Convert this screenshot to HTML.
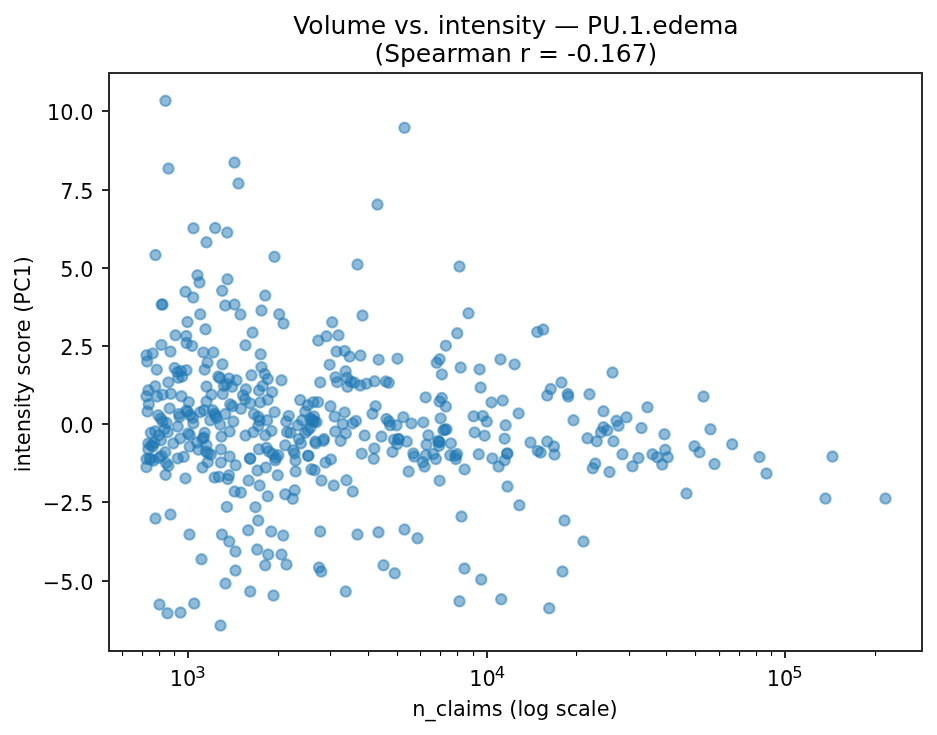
<!DOCTYPE html>
<html lang="en"><head><meta charset="utf-8"><title>Volume vs. intensity — PU.1.edema</title>
<style>html,body{margin:0;padding:0;background:#fff}svg{display:block}text{font-family:"DejaVu Sans", "Liberation Sans", sans-serif;fill:#000}.d{fill:#1f77b4;fill-opacity:.5;stroke:#1f77b4;stroke-opacity:.5;stroke-width:2.083}.k{fill:#2a2a2a;shape-rendering:crispEdges}.m{fill:#000;shape-rendering:crispEdges}.m2{fill:#dfdfdf;shape-rendering:crispEdges}</style></head><body>
<svg width="937" height="735" viewBox="0 0 937 735">
<rect width="937" height="735" fill="#fff"/>
<g class="d">
<circle cx="165.50" cy="100.80" r="5.21"/>
<circle cx="168.50" cy="168.55" r="5.21"/>
<circle cx="234.50" cy="162.55" r="5.21"/>
<circle cx="238.50" cy="183.55" r="5.21"/>
<circle cx="193.50" cy="228.30" r="5.21"/>
<circle cx="215.25" cy="228.05" r="5.21"/>
<circle cx="227.25" cy="232.55" r="5.21"/>
<circle cx="206.50" cy="242.30" r="5.21"/>
<circle cx="404.50" cy="127.80" r="5.21"/>
<circle cx="377.50" cy="204.55" r="5.21"/>
<circle cx="155.50" cy="255.05" r="5.21"/>
<circle cx="274.50" cy="256.80" r="5.21"/>
<circle cx="197.50" cy="275.30" r="5.21"/>
<circle cx="199.50" cy="282.55" r="5.21"/>
<circle cx="227.50" cy="279.30" r="5.21"/>
<circle cx="222.25" cy="290.80" r="5.21"/>
<circle cx="185.50" cy="291.80" r="5.21"/>
<circle cx="193.25" cy="297.55" r="5.21"/>
<circle cx="161.75" cy="304.55" r="5.21"/>
<circle cx="162.50" cy="304.55" r="5.21"/>
<circle cx="225.25" cy="305.55" r="5.21"/>
<circle cx="234.50" cy="304.55" r="5.21"/>
<circle cx="240.50" cy="314.55" r="5.21"/>
<circle cx="265.25" cy="295.55" r="5.21"/>
<circle cx="261.50" cy="310.55" r="5.21"/>
<circle cx="279.25" cy="314.30" r="5.21"/>
<circle cx="283.50" cy="323.55" r="5.21"/>
<circle cx="200.25" cy="314.30" r="5.21"/>
<circle cx="187.50" cy="322.05" r="5.21"/>
<circle cx="205.50" cy="329.30" r="5.21"/>
<circle cx="252.50" cy="332.55" r="5.21"/>
<circle cx="175.50" cy="335.30" r="5.21"/>
<circle cx="186.25" cy="336.05" r="5.21"/>
<circle cx="245.50" cy="345.30" r="5.21"/>
<circle cx="332.25" cy="322.30" r="5.21"/>
<circle cx="326.50" cy="336.30" r="5.21"/>
<circle cx="318.25" cy="340.55" r="5.21"/>
<circle cx="161.37" cy="344.92" r="5.21"/>
<circle cx="170.50" cy="351.55" r="5.21"/>
<circle cx="186.50" cy="343.05" r="5.21"/>
<circle cx="192.13" cy="345.92" r="5.21"/>
<circle cx="152.75" cy="353.42" r="5.21"/>
<circle cx="146.50" cy="355.30" r="5.21"/>
<circle cx="147.13" cy="361.55" r="5.21"/>
<circle cx="156.75" cy="369.68" r="5.21"/>
<circle cx="203.37" cy="352.42" r="5.21"/>
<circle cx="213.37" cy="352.42" r="5.21"/>
<circle cx="207.50" cy="362.55" r="5.21"/>
<circle cx="204.63" cy="369.68" r="5.21"/>
<circle cx="174.63" cy="368.05" r="5.21"/>
<circle cx="177.50" cy="372.18" r="5.21"/>
<circle cx="180.87" cy="370.92" r="5.21"/>
<circle cx="186.50" cy="370.30" r="5.21"/>
<circle cx="178.37" cy="377.80" r="5.21"/>
<circle cx="182.13" cy="376.55" r="5.21"/>
<circle cx="168.37" cy="382.42" r="5.21"/>
<circle cx="206.50" cy="386.55" r="5.21"/>
<circle cx="155.25" cy="386.30" r="5.21"/>
<circle cx="148.37" cy="390.30" r="5.21"/>
<circle cx="146.50" cy="396.30" r="5.21"/>
<circle cx="157.13" cy="396.55" r="5.21"/>
<circle cx="162.75" cy="394.68" r="5.21"/>
<circle cx="170.87" cy="393.80" r="5.21"/>
<circle cx="181.50" cy="396.30" r="5.21"/>
<circle cx="188.75" cy="402.18" r="5.21"/>
<circle cx="211.50" cy="394.68" r="5.21"/>
<circle cx="206.50" cy="401.55" r="5.21"/>
<circle cx="148.75" cy="404.30" r="5.21"/>
<circle cx="147.50" cy="411.55" r="5.21"/>
<circle cx="169.63" cy="408.42" r="5.21"/>
<circle cx="158.37" cy="415.30" r="5.21"/>
<circle cx="160.87" cy="418.42" r="5.21"/>
<circle cx="162.75" cy="421.55" r="5.21"/>
<circle cx="166.50" cy="422.80" r="5.21"/>
<circle cx="179.00" cy="414.05" r="5.21"/>
<circle cx="179.63" cy="416.80" r="5.21"/>
<circle cx="187.75" cy="411.55" r="5.21"/>
<circle cx="186.25" cy="410.68" r="5.21"/>
<circle cx="190.25" cy="415.30" r="5.21"/>
<circle cx="192.75" cy="417.80" r="5.21"/>
<circle cx="193.37" cy="423.42" r="5.21"/>
<circle cx="200.25" cy="412.18" r="5.21"/>
<circle cx="204.00" cy="410.30" r="5.21"/>
<circle cx="212.75" cy="410.30" r="5.21"/>
<circle cx="215.25" cy="415.30" r="5.21"/>
<circle cx="210.25" cy="420.30" r="5.21"/>
<circle cx="177.75" cy="426.55" r="5.21"/>
<circle cx="222.50" cy="364.30" r="5.21"/>
<circle cx="260.63" cy="354.30" r="5.21"/>
<circle cx="261.50" cy="367.18" r="5.21"/>
<circle cx="264.63" cy="374.05" r="5.21"/>
<circle cx="267.75" cy="379.05" r="5.21"/>
<circle cx="251.50" cy="375.30" r="5.21"/>
<circle cx="281.50" cy="380.30" r="5.21"/>
<circle cx="320.25" cy="382.42" r="5.21"/>
<circle cx="226.50" cy="384.05" r="5.21"/>
<circle cx="214.63" cy="413.42" r="5.21"/>
<circle cx="216.50" cy="417.80" r="5.21"/>
<circle cx="312.13" cy="419.68" r="5.21"/>
<circle cx="314.63" cy="421.55" r="5.21"/>
<circle cx="218.37" cy="376.55" r="5.21"/>
<circle cx="220.00" cy="378.05" r="5.21"/>
<circle cx="229.00" cy="378.42" r="5.21"/>
<circle cx="236.50" cy="380.30" r="5.21"/>
<circle cx="224.00" cy="385.92" r="5.21"/>
<circle cx="232.13" cy="386.80" r="5.21"/>
<circle cx="222.75" cy="394.05" r="5.21"/>
<circle cx="245.87" cy="389.30" r="5.21"/>
<circle cx="243.00" cy="395.30" r="5.21"/>
<circle cx="245.00" cy="399.30" r="5.21"/>
<circle cx="250.25" cy="403.42" r="5.21"/>
<circle cx="240.87" cy="408.80" r="5.21"/>
<circle cx="230.25" cy="404.30" r="5.21"/>
<circle cx="232.50" cy="406.30" r="5.21"/>
<circle cx="262.75" cy="385.92" r="5.21"/>
<circle cx="259.00" cy="390.55" r="5.21"/>
<circle cx="272.13" cy="392.18" r="5.21"/>
<circle cx="267.75" cy="399.68" r="5.21"/>
<circle cx="260.25" cy="402.42" r="5.21"/>
<circle cx="300.25" cy="400.05" r="5.21"/>
<circle cx="307.75" cy="405.30" r="5.21"/>
<circle cx="313.37" cy="402.18" r="5.21"/>
<circle cx="318.00" cy="402.18" r="5.21"/>
<circle cx="305.25" cy="411.55" r="5.21"/>
<circle cx="274.63" cy="412.18" r="5.21"/>
<circle cx="288.75" cy="415.92" r="5.21"/>
<circle cx="286.25" cy="421.55" r="5.21"/>
<circle cx="254.00" cy="414.05" r="5.21"/>
<circle cx="258.37" cy="416.80" r="5.21"/>
<circle cx="259.63" cy="420.55" r="5.21"/>
<circle cx="267.13" cy="420.30" r="5.21"/>
<circle cx="233.37" cy="421.55" r="5.21"/>
<circle cx="225.25" cy="414.05" r="5.21"/>
<circle cx="220.25" cy="424.68" r="5.21"/>
<circle cx="310.25" cy="418.42" r="5.21"/>
<circle cx="314.00" cy="416.55" r="5.21"/>
<circle cx="316.50" cy="422.18" r="5.21"/>
<circle cx="312.75" cy="421.55" r="5.21"/>
<circle cx="297.75" cy="425.30" r="5.21"/>
<circle cx="302.13" cy="420.30" r="5.21"/>
<circle cx="336.50" cy="351.55" r="5.21"/>
<circle cx="344.63" cy="350.92" r="5.21"/>
<circle cx="349.63" cy="356.55" r="5.21"/>
<circle cx="360.50" cy="355.55" r="5.21"/>
<circle cx="378.63" cy="359.68" r="5.21"/>
<circle cx="397.50" cy="358.68" r="5.21"/>
<circle cx="329.63" cy="364.68" r="5.21"/>
<circle cx="345.63" cy="371.30" r="5.21"/>
<circle cx="335.50" cy="377.18" r="5.21"/>
<circle cx="337.13" cy="382.18" r="5.21"/>
<circle cx="347.13" cy="377.80" r="5.21"/>
<circle cx="350.87" cy="381.80" r="5.21"/>
<circle cx="347.50" cy="386.80" r="5.21"/>
<circle cx="354.25" cy="382.55" r="5.21"/>
<circle cx="360.25" cy="385.55" r="5.21"/>
<circle cx="366.50" cy="383.68" r="5.21"/>
<circle cx="374.63" cy="381.30" r="5.21"/>
<circle cx="385.87" cy="381.55" r="5.21"/>
<circle cx="388.75" cy="382.80" r="5.21"/>
<circle cx="425.63" cy="397.42" r="5.21"/>
<circle cx="330.50" cy="406.30" r="5.21"/>
<circle cx="344.63" cy="412.42" r="5.21"/>
<circle cx="334.63" cy="416.55" r="5.21"/>
<circle cx="375.63" cy="406.18" r="5.21"/>
<circle cx="372.50" cy="413.80" r="5.21"/>
<circle cx="342.75" cy="424.05" r="5.21"/>
<circle cx="355.87" cy="420.92" r="5.21"/>
<circle cx="352.75" cy="423.42" r="5.21"/>
<circle cx="403.37" cy="417.18" r="5.21"/>
<circle cx="411.50" cy="423.42" r="5.21"/>
<circle cx="423.37" cy="422.42" r="5.21"/>
<circle cx="386.50" cy="419.05" r="5.21"/>
<circle cx="389.00" cy="421.55" r="5.21"/>
<circle cx="390.25" cy="425.30" r="5.21"/>
<circle cx="396.50" cy="425.30" r="5.21"/>
<circle cx="445.87" cy="345.68" r="5.21"/>
<circle cx="439.63" cy="359.30" r="5.21"/>
<circle cx="436.75" cy="362.80" r="5.21"/>
<circle cx="460.63" cy="367.55" r="5.21"/>
<circle cx="479.63" cy="369.42" r="5.21"/>
<circle cx="500.50" cy="359.42" r="5.21"/>
<circle cx="514.63" cy="364.42" r="5.21"/>
<circle cx="441.87" cy="374.42" r="5.21"/>
<circle cx="480.63" cy="387.55" r="5.21"/>
<circle cx="491.50" cy="402.42" r="5.21"/>
<circle cx="502.75" cy="400.55" r="5.21"/>
<circle cx="441.75" cy="398.05" r="5.21"/>
<circle cx="439.63" cy="401.55" r="5.21"/>
<circle cx="445.87" cy="406.55" r="5.21"/>
<circle cx="440.63" cy="418.42" r="5.21"/>
<circle cx="473.63" cy="416.30" r="5.21"/>
<circle cx="482.75" cy="415.92" r="5.21"/>
<circle cx="486.75" cy="421.55" r="5.21"/>
<circle cx="518.63" cy="413.42" r="5.21"/>
<circle cx="505.63" cy="425.30" r="5.21"/>
<circle cx="543.25" cy="329.55" r="5.21"/>
<circle cx="612.50" cy="372.55" r="5.21"/>
<circle cx="561.50" cy="382.55" r="5.21"/>
<circle cx="550.75" cy="389.05" r="5.21"/>
<circle cx="547.25" cy="395.55" r="5.21"/>
<circle cx="567.75" cy="394.05" r="5.21"/>
<circle cx="568.25" cy="396.55" r="5.21"/>
<circle cx="589.50" cy="394.30" r="5.21"/>
<circle cx="703.50" cy="396.55" r="5.21"/>
<circle cx="603.50" cy="411.30" r="5.21"/>
<circle cx="647.50" cy="407.30" r="5.21"/>
<circle cx="573.50" cy="420.30" r="5.21"/>
<circle cx="626.50" cy="417.30" r="5.21"/>
<circle cx="616.50" cy="420.80" r="5.21"/>
<circle cx="618.50" cy="425.80" r="5.21"/>
<circle cx="641.50" cy="428.05" r="5.21"/>
<circle cx="603.50" cy="427.30" r="5.21"/>
<circle cx="601.00" cy="432.30" r="5.21"/>
<circle cx="607.25" cy="430.30" r="5.21"/>
<circle cx="664.50" cy="434.30" r="5.21"/>
<circle cx="710.50" cy="429.30" r="5.21"/>
<circle cx="587.50" cy="438.30" r="5.21"/>
<circle cx="596.75" cy="441.30" r="5.21"/>
<circle cx="613.50" cy="441.30" r="5.21"/>
<circle cx="547.25" cy="441.55" r="5.21"/>
<circle cx="554.00" cy="446.55" r="5.21"/>
<circle cx="554.50" cy="454.55" r="5.21"/>
<circle cx="732.25" cy="444.30" r="5.21"/>
<circle cx="694.50" cy="446.30" r="5.21"/>
<circle cx="699.50" cy="452.30" r="5.21"/>
<circle cx="622.50" cy="454.30" r="5.21"/>
<circle cx="638.50" cy="458.05" r="5.21"/>
<circle cx="652.50" cy="454.30" r="5.21"/>
<circle cx="657.25" cy="457.30" r="5.21"/>
<circle cx="665.25" cy="449.80" r="5.21"/>
<circle cx="667.75" cy="457.30" r="5.21"/>
<circle cx="662.25" cy="464.55" r="5.21"/>
<circle cx="632.50" cy="466.30" r="5.21"/>
<circle cx="595.25" cy="463.55" r="5.21"/>
<circle cx="592.75" cy="468.30" r="5.21"/>
<circle cx="609.50" cy="472.05" r="5.21"/>
<circle cx="714.50" cy="464.05" r="5.21"/>
<circle cx="759.50" cy="457.05" r="5.21"/>
<circle cx="766.50" cy="473.55" r="5.21"/>
<circle cx="832.50" cy="456.55" r="5.21"/>
<circle cx="825.50" cy="498.55" r="5.21"/>
<circle cx="885.50" cy="498.55" r="5.21"/>
<circle cx="357.50" cy="264.55" r="5.21"/>
<circle cx="459.50" cy="266.55" r="5.21"/>
<circle cx="362.50" cy="315.55" r="5.21"/>
<circle cx="468.50" cy="313.30" r="5.21"/>
<circle cx="338.50" cy="335.30" r="5.21"/>
<circle cx="457.25" cy="333.30" r="5.21"/>
<circle cx="537.25" cy="332.05" r="5.21"/>
<circle cx="150.87" cy="432.80" r="5.21"/>
<circle cx="155.25" cy="431.30" r="5.21"/>
<circle cx="159.00" cy="435.30" r="5.21"/>
<circle cx="167.75" cy="432.18" r="5.21"/>
<circle cx="164.63" cy="429.05" r="5.21"/>
<circle cx="188.13" cy="433.42" r="5.21"/>
<circle cx="189.75" cy="435.05" r="5.21"/>
<circle cx="204.63" cy="432.80" r="5.21"/>
<circle cx="202.50" cy="438.80" r="5.21"/>
<circle cx="203.75" cy="437.55" r="5.21"/>
<circle cx="180.25" cy="438.42" r="5.21"/>
<circle cx="173.37" cy="443.42" r="5.21"/>
<circle cx="189.63" cy="446.55" r="5.21"/>
<circle cx="197.13" cy="442.55" r="5.21"/>
<circle cx="198.37" cy="449.68" r="5.21"/>
<circle cx="206.50" cy="445.30" r="5.21"/>
<circle cx="205.87" cy="451.55" r="5.21"/>
<circle cx="208.37" cy="453.42" r="5.21"/>
<circle cx="210.87" cy="454.68" r="5.21"/>
<circle cx="148.37" cy="443.42" r="5.21"/>
<circle cx="151.25" cy="445.05" r="5.21"/>
<circle cx="154.25" cy="442.80" r="5.21"/>
<circle cx="152.75" cy="446.55" r="5.21"/>
<circle cx="148.37" cy="449.30" r="5.21"/>
<circle cx="160.87" cy="440.30" r="5.21"/>
<circle cx="165.25" cy="452.18" r="5.21"/>
<circle cx="161.50" cy="455.92" r="5.21"/>
<circle cx="146.50" cy="459.05" r="5.21"/>
<circle cx="149.63" cy="458.42" r="5.21"/>
<circle cx="150.63" cy="459.68" r="5.21"/>
<circle cx="153.63" cy="460.55" r="5.21"/>
<circle cx="159.00" cy="457.80" r="5.21"/>
<circle cx="146.50" cy="467.18" r="5.21"/>
<circle cx="166.25" cy="463.18" r="5.21"/>
<circle cx="168.37" cy="465.92" r="5.21"/>
<circle cx="177.75" cy="458.42" r="5.21"/>
<circle cx="183.75" cy="456.80" r="5.21"/>
<circle cx="207.75" cy="462.18" r="5.21"/>
<circle cx="202.50" cy="467.55" r="5.21"/>
<circle cx="165.63" cy="474.92" r="5.21"/>
<circle cx="185.50" cy="478.42" r="5.21"/>
<circle cx="214.63" cy="477.55" r="5.21"/>
<circle cx="229.63" cy="431.55" r="5.21"/>
<circle cx="221.50" cy="436.55" r="5.21"/>
<circle cx="245.50" cy="435.55" r="5.21"/>
<circle cx="253.37" cy="432.18" r="5.21"/>
<circle cx="265.25" cy="435.30" r="5.21"/>
<circle cx="271.50" cy="430.92" r="5.21"/>
<circle cx="287.13" cy="432.18" r="5.21"/>
<circle cx="290.25" cy="432.80" r="5.21"/>
<circle cx="299.00" cy="439.05" r="5.21"/>
<circle cx="300.87" cy="443.42" r="5.21"/>
<circle cx="307.75" cy="430.30" r="5.21"/>
<circle cx="310.25" cy="427.80" r="5.21"/>
<circle cx="305.25" cy="432.80" r="5.21"/>
<circle cx="315.25" cy="441.55" r="5.21"/>
<circle cx="315.87" cy="443.42" r="5.21"/>
<circle cx="323.37" cy="440.92" r="5.21"/>
<circle cx="324.00" cy="439.05" r="5.21"/>
<circle cx="220.87" cy="449.42" r="5.21"/>
<circle cx="229.63" cy="456.55" r="5.21"/>
<circle cx="220.87" cy="462.55" r="5.21"/>
<circle cx="235.63" cy="465.30" r="5.21"/>
<circle cx="250.00" cy="458.42" r="5.21"/>
<circle cx="250.25" cy="458.80" r="5.21"/>
<circle cx="259.00" cy="449.30" r="5.21"/>
<circle cx="266.50" cy="447.80" r="5.21"/>
<circle cx="269.00" cy="451.55" r="5.21"/>
<circle cx="272.75" cy="454.05" r="5.21"/>
<circle cx="275.87" cy="457.80" r="5.21"/>
<circle cx="278.37" cy="455.30" r="5.21"/>
<circle cx="275.25" cy="460.30" r="5.21"/>
<circle cx="285.25" cy="445.30" r="5.21"/>
<circle cx="293.37" cy="450.30" r="5.21"/>
<circle cx="294.63" cy="453.42" r="5.21"/>
<circle cx="295.50" cy="460.55" r="5.21"/>
<circle cx="308.13" cy="455.68" r="5.21"/>
<circle cx="308.37" cy="455.92" r="5.21"/>
<circle cx="295.63" cy="471.55" r="5.21"/>
<circle cx="257.50" cy="470.55" r="5.21"/>
<circle cx="265.87" cy="467.55" r="5.21"/>
<circle cx="277.75" cy="475.30" r="5.21"/>
<circle cx="311.50" cy="469.30" r="5.21"/>
<circle cx="314.63" cy="470.30" r="5.21"/>
<circle cx="219.00" cy="476.80" r="5.21"/>
<circle cx="227.75" cy="479.05" r="5.21"/>
<circle cx="229.00" cy="475.30" r="5.21"/>
<circle cx="321.50" cy="480.55" r="5.21"/>
<circle cx="258.37" cy="425.92" r="5.21"/>
<circle cx="248.63" cy="480.55" r="5.21"/>
<circle cx="259.63" cy="485.55" r="5.21"/>
<circle cx="234.63" cy="491.55" r="5.21"/>
<circle cx="240.87" cy="492.55" r="5.21"/>
<circle cx="267.75" cy="496.30" r="5.21"/>
<circle cx="285.25" cy="494.30" r="5.21"/>
<circle cx="294.63" cy="490.30" r="5.21"/>
<circle cx="292.75" cy="498.80" r="5.21"/>
<circle cx="226.87" cy="506.92" r="5.21"/>
<circle cx="255.50" cy="507.18" r="5.21"/>
<circle cx="335.25" cy="431.55" r="5.21"/>
<circle cx="345.87" cy="433.42" r="5.21"/>
<circle cx="340.63" cy="440.92" r="5.21"/>
<circle cx="364.63" cy="435.55" r="5.21"/>
<circle cx="381.50" cy="436.55" r="5.21"/>
<circle cx="394.00" cy="439.68" r="5.21"/>
<circle cx="398.37" cy="439.05" r="5.21"/>
<circle cx="398.75" cy="439.30" r="5.21"/>
<circle cx="397.13" cy="444.05" r="5.21"/>
<circle cx="406.75" cy="441.55" r="5.21"/>
<circle cx="392.50" cy="451.92" r="5.21"/>
<circle cx="374.37" cy="448.42" r="5.21"/>
<circle cx="373.75" cy="458.80" r="5.21"/>
<circle cx="361.75" cy="453.68" r="5.21"/>
<circle cx="428.37" cy="435.30" r="5.21"/>
<circle cx="426.50" cy="444.68" r="5.21"/>
<circle cx="413.37" cy="453.42" r="5.21"/>
<circle cx="414.25" cy="456.55" r="5.21"/>
<circle cx="425.87" cy="455.30" r="5.21"/>
<circle cx="433.37" cy="454.05" r="5.21"/>
<circle cx="435.87" cy="459.05" r="5.21"/>
<circle cx="422.75" cy="462.18" r="5.21"/>
<circle cx="424.63" cy="466.55" r="5.21"/>
<circle cx="408.63" cy="471.55" r="5.21"/>
<circle cx="330.87" cy="459.42" r="5.21"/>
<circle cx="325.50" cy="462.55" r="5.21"/>
<circle cx="333.75" cy="485.55" r="5.21"/>
<circle cx="346.50" cy="480.30" r="5.21"/>
<circle cx="352.75" cy="491.55" r="5.21"/>
<circle cx="443.37" cy="430.30" r="5.21"/>
<circle cx="446.50" cy="429.30" r="5.21"/>
<circle cx="445.00" cy="429.80" r="5.21"/>
<circle cx="474.63" cy="432.42" r="5.21"/>
<circle cx="484.63" cy="435.68" r="5.21"/>
<circle cx="504.63" cy="438.68" r="5.21"/>
<circle cx="530.50" cy="442.55" r="5.21"/>
<circle cx="537.75" cy="450.92" r="5.21"/>
<circle cx="540.63" cy="452.55" r="5.21"/>
<circle cx="438.00" cy="441.05" r="5.21"/>
<circle cx="439.00" cy="441.80" r="5.21"/>
<circle cx="439.75" cy="442.30" r="5.21"/>
<circle cx="439.00" cy="445.92" r="5.21"/>
<circle cx="450.87" cy="443.42" r="5.21"/>
<circle cx="450.25" cy="455.30" r="5.21"/>
<circle cx="455.25" cy="455.92" r="5.21"/>
<circle cx="457.13" cy="454.05" r="5.21"/>
<circle cx="455.87" cy="459.05" r="5.21"/>
<circle cx="478.75" cy="454.30" r="5.21"/>
<circle cx="492.37" cy="458.42" r="5.21"/>
<circle cx="507.13" cy="453.42" r="5.21"/>
<circle cx="507.37" cy="453.68" r="5.21"/>
<circle cx="504.63" cy="460.30" r="5.21"/>
<circle cx="498.63" cy="466.55" r="5.21"/>
<circle cx="464.63" cy="469.42" r="5.21"/>
<circle cx="439.63" cy="480.68" r="5.21"/>
<circle cx="507.50" cy="486.55" r="5.21"/>
<circle cx="519.37" cy="505.30" r="5.21"/>
<circle cx="155.50" cy="518.55" r="5.21"/>
<circle cx="170.50" cy="514.55" r="5.21"/>
<circle cx="189.50" cy="534.55" r="5.21"/>
<circle cx="258.25" cy="520.55" r="5.21"/>
<circle cx="248.25" cy="530.30" r="5.21"/>
<circle cx="222.00" cy="534.55" r="5.21"/>
<circle cx="229.25" cy="541.55" r="5.21"/>
<circle cx="235.50" cy="551.55" r="5.21"/>
<circle cx="271.25" cy="531.55" r="5.21"/>
<circle cx="283.25" cy="535.55" r="5.21"/>
<circle cx="320.25" cy="531.55" r="5.21"/>
<circle cx="257.25" cy="549.55" r="5.21"/>
<circle cx="268.25" cy="554.55" r="5.21"/>
<circle cx="281.50" cy="554.55" r="5.21"/>
<circle cx="286.50" cy="564.55" r="5.21"/>
<circle cx="265.25" cy="565.30" r="5.21"/>
<circle cx="201.50" cy="559.30" r="5.21"/>
<circle cx="235.50" cy="570.55" r="5.21"/>
<circle cx="319.00" cy="567.55" r="5.21"/>
<circle cx="321.25" cy="571.55" r="5.21"/>
<circle cx="225.50" cy="583.55" r="5.21"/>
<circle cx="250.25" cy="591.55" r="5.21"/>
<circle cx="273.50" cy="595.55" r="5.21"/>
<circle cx="159.50" cy="604.55" r="5.21"/>
<circle cx="167.50" cy="613.30" r="5.21"/>
<circle cx="180.50" cy="612.55" r="5.21"/>
<circle cx="194.25" cy="603.55" r="5.21"/>
<circle cx="220.50" cy="625.55" r="5.21"/>
<circle cx="461.50" cy="516.55" r="5.21"/>
<circle cx="357.50" cy="534.55" r="5.21"/>
<circle cx="378.50" cy="532.30" r="5.21"/>
<circle cx="404.50" cy="529.55" r="5.21"/>
<circle cx="417.50" cy="538.30" r="5.21"/>
<circle cx="383.50" cy="565.30" r="5.21"/>
<circle cx="394.75" cy="573.30" r="5.21"/>
<circle cx="345.75" cy="591.55" r="5.21"/>
<circle cx="464.50" cy="568.55" r="5.21"/>
<circle cx="481.25" cy="579.55" r="5.21"/>
<circle cx="459.50" cy="601.30" r="5.21"/>
<circle cx="501.25" cy="599.30" r="5.21"/>
<circle cx="549.25" cy="608.30" r="5.21"/>
<circle cx="686.50" cy="493.55" r="5.21"/>
<circle cx="564.50" cy="520.55" r="5.21"/>
<circle cx="583.50" cy="541.55" r="5.21"/>
<circle cx="562.50" cy="571.55" r="5.21"/>
</g>
<g class="k">
<rect x="108" y="72" width="2" height="580"/><rect x="921" y="72" width="2" height="580"/>
<rect x="108" y="72" width="815" height="2"/><rect x="108" y="650" width="815" height="2"/>
<rect x="187" y="651" width="2" height="7"/>
<rect x="486" y="651" width="2" height="7"/>
<rect x="784" y="651" width="2" height="7"/>
<rect x="102" y="110" width="7" height="2"/>
<rect x="102" y="189" width="7" height="2"/>
<rect x="102" y="267" width="7" height="2"/>
<rect x="102" y="345" width="7" height="2"/>
<rect x="102" y="423" width="7" height="2"/>
<rect x="102" y="501" width="7" height="2"/>
<rect x="102" y="580" width="7" height="2"/>
</g>
<g class="m">
<rect x="122" y="652" width="1" height="4"/>
<rect x="142" y="652" width="1" height="4"/>
<rect x="159" y="652" width="1" height="4"/>
<rect x="174" y="652" width="1" height="4"/>
<rect x="278" y="652" width="1" height="4"/>
<rect x="330" y="652" width="1" height="4"/>
<rect x="368" y="652" width="1" height="4"/>
<rect x="397" y="652" width="1" height="4"/>
<rect x="420" y="652" width="1" height="4"/>
<rect x="440" y="652" width="1" height="4"/>
<rect x="457" y="652" width="1" height="4"/>
<rect x="473" y="652" width="1" height="4"/>
<rect x="576" y="652" width="1" height="4"/>
<rect x="629" y="652" width="1" height="4"/>
<rect x="666" y="652" width="1" height="4"/>
<rect x="695" y="652" width="1" height="4"/>
<rect x="719" y="652" width="1" height="4"/>
<rect x="739" y="652" width="1" height="4"/>
<rect x="756" y="652" width="1" height="4"/>
<rect x="771" y="652" width="1" height="4"/>
<rect x="875" y="652" width="1" height="4"/>
</g><g class="m2">
<rect x="123" y="652" width="1" height="3"/>
<rect x="143" y="652" width="1" height="3"/>
<rect x="160" y="652" width="1" height="3"/>
<rect x="175" y="652" width="1" height="3"/>
<rect x="279" y="652" width="1" height="3"/>
<rect x="331" y="652" width="1" height="3"/>
<rect x="369" y="652" width="1" height="3"/>
<rect x="398" y="652" width="1" height="3"/>
<rect x="421" y="652" width="1" height="3"/>
<rect x="441" y="652" width="1" height="3"/>
<rect x="458" y="652" width="1" height="3"/>
<rect x="474" y="652" width="1" height="3"/>
<rect x="577" y="652" width="1" height="3"/>
<rect x="630" y="652" width="1" height="3"/>
<rect x="667" y="652" width="1" height="3"/>
<rect x="696" y="652" width="1" height="3"/>
<rect x="720" y="652" width="1" height="3"/>
<rect x="740" y="652" width="1" height="3"/>
<rect x="757" y="652" width="1" height="3"/>
<rect x="772" y="652" width="1" height="3"/>
<rect x="876" y="652" width="1" height="3"/>
</g>
<text font-size="20.83" x="169.66" y="686.27">10</text>
<text font-size="16.4" x="195.37" y="678.30">3</text>
<text font-size="20.83" x="469.16" y="686.27">10</text>
<text font-size="16.4" x="494.87" y="678.30">4</text>
<text font-size="20.83" x="766.67" y="686.27">10</text>
<text font-size="16.4" x="792.37" y="678.30">5</text>
<text font-size="20.83" text-anchor="end" x="93.42" y="589.78">−5.0</text>
<text font-size="20.83" text-anchor="end" x="93.42" y="511.42">−2.5</text>
<text font-size="20.83" text-anchor="end" x="93.42" y="433.06">0.0</text>
<text font-size="20.83" text-anchor="end" x="93.42" y="354.70">2.5</text>
<text font-size="20.83" text-anchor="end" x="93.42" y="277.34">5.0</text>
<text font-size="20.83" text-anchor="end" x="93.42" y="198.98">7.5</text>
<text font-size="20.83" text-anchor="end" x="93.42" y="119.63">10.0</text>
<text font-size="20.83" text-anchor="middle" x="514.87" y="715.90">n_claims (log scale)</text>
<text font-size="20.83" text-anchor="middle" transform="translate(30.16 364.24) rotate(-90)">intensity score (PC1)</text>
<text font-size="25" x="293.18" y="34.00">Volume vs. intensity — PU.1.edema</text>
<text font-size="25" x="374.39" y="61.99">(Spearman r = -0.167)</text>
</svg></body></html>
